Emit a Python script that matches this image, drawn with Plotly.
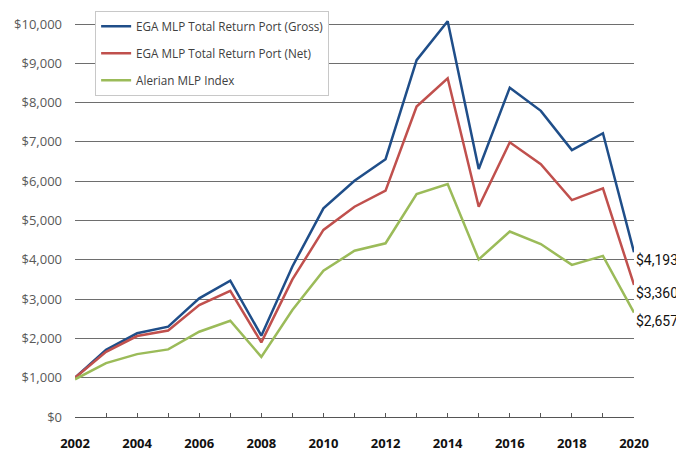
import plotly.graph_objects as go

years = list(range(2002, 2021))
gross = [1000, 1710, 2130, 2300, 3020, 3470, 2070, 3830, 5310, 6010, 6560, 9080, 10070, 6310, 8380, 7790, 6790, 7220, 4193]
net = [1000, 1660, 2060, 2200, 2850, 3210, 1900, 3500, 4760, 5350, 5760, 7900, 8620, 5350, 6990, 6430, 5520, 5820, 3360]
alerian = [960, 1370, 1600, 1720, 2170, 2450, 1530, 2720, 3720, 4230, 4420, 5670, 5930, 4010, 4720, 4400, 3870, 4100, 2657]
names = ["EGA MLP Total Return Port (Gross)", "EGA MLP Total Return Port (Net)", "Alerian MLP Index"]
colors = ["#1f4e89", "#c0504d", "#9bbb59"]
end_labels = ["$4,193", "$3,360", "$2,657"]
y_ticks = list(range(0, 10001, 1000))
y_text = ["$" + format(v, ",") for v in y_ticks]
x_text = [str(y) if (y - 2002) % 2 == 0 else "" for y in years]

fig = go.Figure()
for i, (nm, ser) in enumerate(zip(names, [gross, net, alerian])):
    fig.add_trace(go.Scatter(x=years, y=ser, mode="lines", name=nm,
                             legendgroup=str(i),
                             line=dict(color=colors[i], width=2.5)))
    fig.add_annotation(x=years[-1], y=ser[-1], text=end_labels[i], showarrow=False,
                       xanchor="left", yanchor="middle", xshift=0, yshift=-8,
                       font=dict(family="Roboto", size=14, color="#111"))

fig.update_layout(
    width=676, height=444,
    margin=dict(l=67, r=50, t=0, b=35),
    plot_bgcolor="white", paper_bgcolor="white",
    showlegend=True,
    legend=dict(x=0.036, y=0.993, xanchor="left", yanchor="top",
                bgcolor="white", bordercolor="#c8c8c8", borderwidth=1,
                font=dict(family="Open Sans", size=11.7, color="#404040"),
                tracegroupgap=8, itemwidth=30),
    xaxis=dict(range=[2002, 2020], tickvals=years, ticktext=x_text,
               showgrid=False, showline=True, linecolor="#555", linewidth=1,
               ticks="inside", ticklen=4, tickcolor="#555", automargin=False,
               tickfont=dict(family="Open Sans", size=13, color="#111", weight="bold"),
               ticklabelstandoff=14, zeroline=False),
    yaxis=dict(range=[0, 10407], tickvals=y_ticks, ticktext=y_text,
               showgrid=True, gridcolor="#6e6e6e", gridwidth=1, automargin=False,
               showline=False, ticks="", zeroline=False,
               tickfont=dict(family="Open Sans", size=13, color="#595959"),
               ticklabelstandoff=12),
)
fig.write_html("out.html")
